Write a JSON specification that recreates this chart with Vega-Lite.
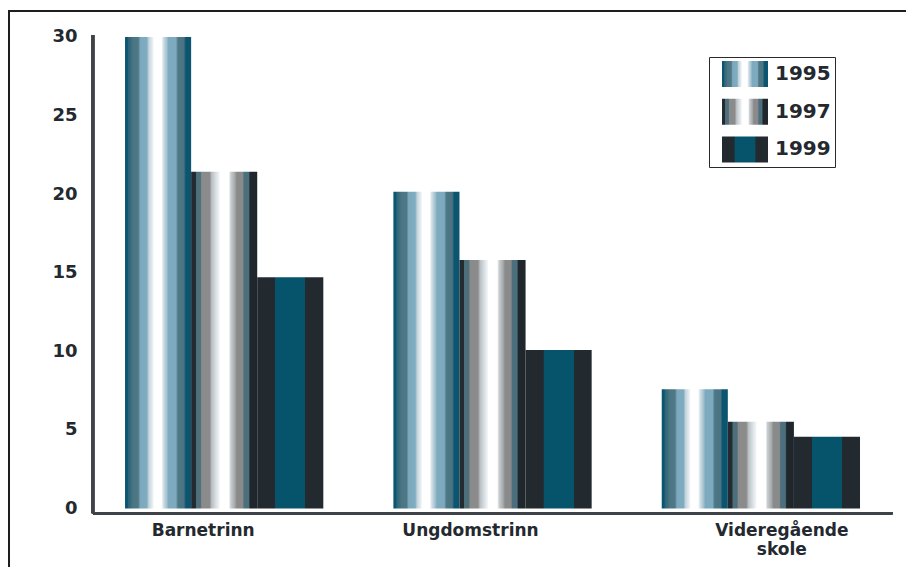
{
  "$schema": "https://vega.github.io/schema/vega-lite/v6.json",
  "width": 898,
  "height": 557,
  "autosize": "none",
  "padding": {"left": 9, "top": 11, "right": -1, "bottom": -1},
  "background": "white",
  "config": {
    "view": {"stroke": "#1e1e1e", "strokeWidth": 2},
    "font": "DejaVu Sans"
  },
  "params": [
    {"name": "g1995", "expr": "{gradient: 'linear', x1: 0, y1: 0, x2: 1, y2: 0, stops: [{offset: 0, color: '#0b5570'}, {offset: 0.035, color: '#0b5570'}, {offset: 0.05, color: '#2a6378'}, {offset: 0.1, color: '#3f6f80'}, {offset: 0.12, color: '#4c7584'}, {offset: 0.2, color: '#4e7886'}, {offset: 0.23, color: '#7ba8bd'}, {offset: 0.33, color: '#80acc0'}, {offset: 0.36, color: '#c4d4dc'}, {offset: 0.41, color: '#e3ebef'}, {offset: 0.44, color: '#ffffff'}, {offset: 0.55, color: '#ffffff'}, {offset: 0.58, color: '#d3dfe5'}, {offset: 0.63, color: '#a3c2d0'}, {offset: 0.66, color: '#7eaabf'}, {offset: 0.77, color: '#7eaabf'}, {offset: 0.8, color: '#4e7886'}, {offset: 0.89, color: '#4a7383'}, {offset: 0.92, color: '#0b5570'}, {offset: 1, color: '#0b5570'}]}"},
    {"name": "g1997", "expr": "{gradient: 'linear', x1: 0, y1: 0, x2: 1, y2: 0, stops: [{offset: 0, color: '#232a30'}, {offset: 0.066, color: '#232a30'}, {offset: 0.075, color: '#4d6f7c'}, {offset: 0.14, color: '#4d6f7c'}, {offset: 0.16, color: '#8b8b8b'}, {offset: 0.28, color: '#8b8b8b'}, {offset: 0.31, color: '#b9bec1'}, {offset: 0.37, color: '#d5dde1'}, {offset: 0.42, color: '#eef2f4'}, {offset: 0.44, color: '#ffffff'}, {offset: 0.57, color: '#ffffff'}, {offset: 0.6, color: '#c8cdd0'}, {offset: 0.66, color: '#a6aaac'}, {offset: 0.69, color: '#8a8a8a'}, {offset: 0.78, color: '#8a8a8a'}, {offset: 0.8, color: '#4c6f7d'}, {offset: 0.87, color: '#4c6f7d'}, {offset: 0.89, color: '#1f272d'}, {offset: 1, color: '#1f272d'}]}"},
    {"name": "g1999", "expr": "{gradient: 'linear', x1: 0, y1: 0, x2: 1, y2: 0, stops: [{offset: 0, color: '#222a30'}, {offset: 0.27, color: '#222a30'}, {offset: 0.275, color: '#06546b'}, {offset: 0.725, color: '#06546b'}, {offset: 0.73, color: '#222a30'}, {offset: 1, color: '#222a30'}]}"}
  ],
  "data": {
    "values": [
      {"category": "Barnetrinn", "year": "1995", "value": 30.0},
      {"category": "Barnetrinn", "year": "1997", "value": 21.43},
      {"category": "Barnetrinn", "year": "1999", "value": 14.71},
      {"category": "Ungdomstrinn", "year": "1995", "value": 20.16},
      {"category": "Ungdomstrinn", "year": "1997", "value": 15.81},
      {"category": "Ungdomstrinn", "year": "1999", "value": 10.08},
      {"category": "Videregående skole", "year": "1995", "value": 7.58},
      {"category": "Videregående skole", "year": "1997", "value": 5.52},
      {"category": "Videregående skole", "year": "1999", "value": 4.57}
    ]
  },
  "layer": [
    {
      "mark": {
        "type": "bar",
        "strokeWidth": 0,
        "color": {"expr": "(datum.year ? datum.year : datum.value) == '1995' ? g1995 : ((datum.year ? datum.year : datum.value) == '1997' ? g1997 : g1999)"}
      },
      "encoding": {
        "x": {
          "field": "category",
          "type": "nominal",
          "sort": null,
          "scale": {
            "domain": ["Barnetrinn", "Ungdomstrinn", "Videregående skole"],
            "paddingInner": 0,
            "paddingOuter": 0.1732,
            "align": 0.8714
          },
          "axis": {
            "title": null,
            "orient": "bottom",
            "offset": -55,
            "domain": false,
            "ticks": false,
            "labelPadding": 9,
            "labelAngle": 0,
            "labelFont": "DejaVu Sans",
            "labelFontWeight": "bold",
            "labelFontSize": 17,
            "labelColor": "#23292e",
            "labelExpr": "split(datum.label, ' ')",
            "labelLineHeight": 19,
            "labelOffset": {"expr": "datum.value == 'Barnetrinn' ? -21 : (datum.value == 'Ungdomstrinn' ? -22 : 21)"}
          }
        },
        "xOffset": {
          "field": "year",
          "type": "nominal",
          "scale": {"domain": ["1995", "1997", "1999"], "paddingInner": 0, "paddingOuter": 0.53}
        },
        "y": {
          "field": "value",
          "type": "quantitative",
          "scale": {"domain": [-3.786, 31.654], "zero": false, "nice": false},
          "axis": {
            "title": null,
            "offset": -84,
            "values": [0, 5, 10, 15, 20, 25, 30],
            "domain": false,
            "ticks": false,
            "grid": false,
            "labelPadding": 16,
            "labelFont": "DejaVu Sans",
            "labelFontWeight": "bold",
            "labelFontSize": 18,
            "labelColor": "#23292e"
          }
        },
        "y2": {"datum": 0},
        "stroke": {
          "field": "year",
          "type": "nominal",
          "scale": {"domain": ["1995", "1997", "1999"], "range": ["#0b5570", "#232a30", "#222a30"]},
          "legend": {
            "title": null,
            "orient": "none",
            "legendX": 700,
            "legendY": 46,
            "padding": 4,
            "strokeColor": "#2a2a2a",
            "fillColor": "white",
            "symbolType": "M-1.769,-1H1.769V1H-1.769Z",
            "symbolSize": 676,
            "symbolOffset": 19,
            "symbolStrokeWidth": 0,
            "symbolOpacity": 1,
            "labelOffset": 17,
            "rowPadding": 11.7,
            "labelFont": "DejaVu Sans",
            "labelFontWeight": "bold",
            "labelFontSize": 20,
            "labelColor": "#23292e"
          }
        }
      }
    },
    {
      "mark": {"type": "rule", "color": "#3d4348", "strokeWidth": 2.5},
      "encoding": {
        "x": {"datum": "Barnetrinn", "type": "nominal", "bandPosition": 0.011},
        "y": {"datum": 30.13, "type": "quantitative"},
        "y2": {"datum": -0.3}
      }
    },
    {
      "mark": {"type": "rule", "color": "#3d4348", "strokeWidth": 2.5},
      "encoding": {
        "x": {"datum": "Barnetrinn", "type": "nominal", "bandPosition": 0.011},
        "x2": {"datum": "Videregående skole", "bandPosition": 0.99},
        "y": {"datum": -0.3, "type": "quantitative"}
      }
    }
  ]
}
